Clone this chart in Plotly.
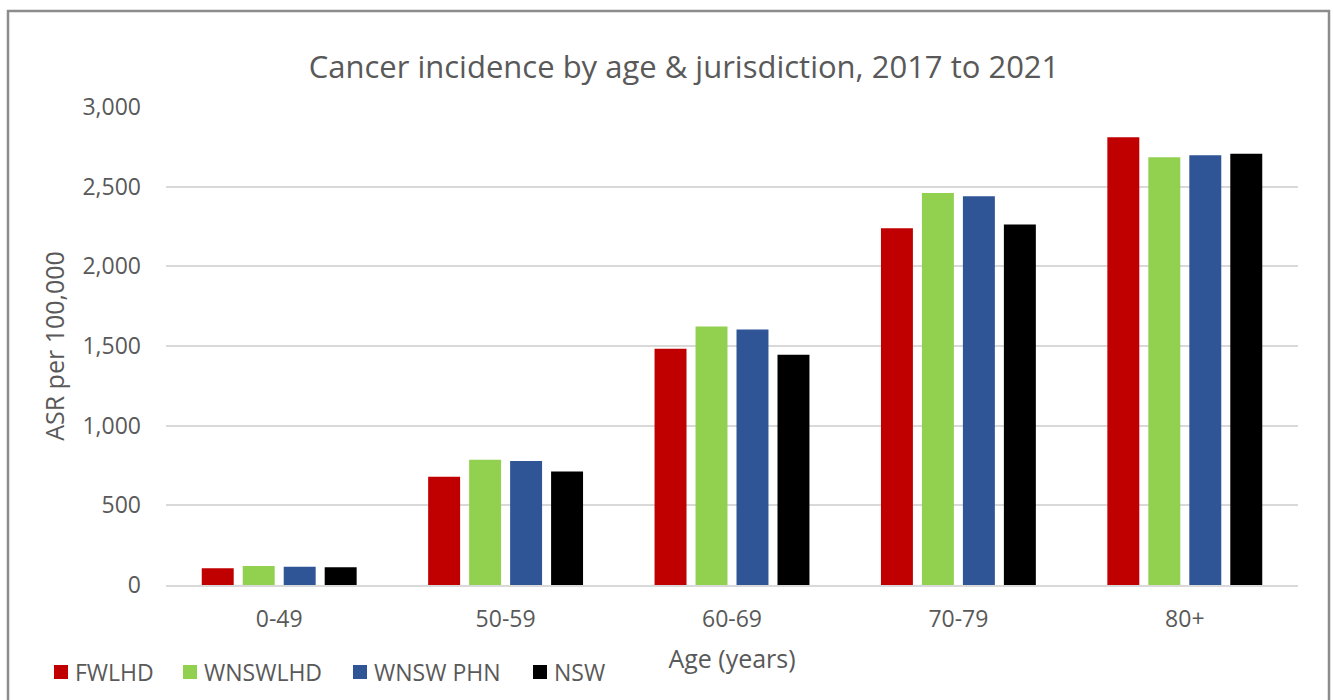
import plotly.graph_objects as go

# Age groups and age-specific rates (ASR per 100,000) for each jurisdiction
age_groups = ["0-49", "50-59", "60-69", "70-79", "80+"]
series_names = ["FWLHD", "WNSWLHD", "WNSW PHN", "NSW"]
fwlhd = [105, 679, 1483, 2239, 2810]
wnswlhd = [119, 786, 1623, 2461, 2684]
wnsw_phn = [115, 778, 1604, 2440, 2697]
nsw = [111, 713, 1445, 2262, 2707]
y_ticks = [0, 500, 1000, 1500, 2000, 2500, 3000]

series_values = [fwlhd, wnswlhd, wnsw_phn, nsw]
series_colors = ["#C00000", "#92D050", "#2F5597", "#000000"]

W, H = 1333, 700
ML, MR, MT, MB = 166, 35, 107, 115
PW = W - ML - MR
PH = H - MT - MB


def px_x(px):
    return (px - ML) / PW


def px_y(py):
    return (H - MB - py) / PH


FONT = "Open Sans"
GREY = "#595959"

fig = go.Figure()
for name, vals, col in zip(series_names, series_values, series_colors):
    fig.add_trace(go.Bar(
        x=age_groups, y=vals, name=name, showlegend=False,
        marker=dict(color=col, line=dict(width=0)),
    ))

fig.update_layout(
    width=W, height=H, autosize=False,
    margin=dict(l=ML, r=MR, t=MT, b=MB, pad=0),
    paper_bgcolor="white", plot_bgcolor="white",
    barmode="group", bargap=0.276, bargroupgap=0.22,
    font=dict(family=FONT, color=GREY, size=23),
    title=dict(
        text="Cancer incidence by age & jurisdiction, 2017 to 2021",
        x=684 / W, xanchor="center", y=1 - 67 / H, yanchor="middle",
        font=dict(family=FONT, size=31, color=GREY),
    ),
    showlegend=False,
)

fig.update_xaxes(
    showgrid=False, zeroline=False,
    showline=True, linecolor="#D9D9D9", linewidth=2,
    ticks="", ticklabelstandoff=12,
    tickfont=dict(family=FONT, size=23, color=GREY),
    title=dict(text="Age (years)", standoff=18,
               font=dict(family=FONT, size=25, color=GREY)),
)

fig.update_yaxes(
    range=[0, 3000], tickvals=y_ticks, tickformat=",",
    showgrid=True, gridcolor="#D9D9D9", gridwidth=2,
    zeroline=False, showline=False,
    ticks="", ticklabelstandoff=24,
    tickfont=dict(family=FONT, size=23, color=GREY),
    title=dict(text="ASR per 100,000", standoff=10,
               font=dict(family=FONT, size=25, color=GREY)),
)

# Legend row along the bottom-left: colour key followed by series name
legend_key_left = [54, 183, 353, 533]
legend_y = 672
key = 14
for name, col, kx in zip(series_names, series_colors, legend_key_left):
    fig.add_shape(
        type="rect", xref="paper", yref="paper",
        x0=px_x(kx), x1=px_x(kx + key),
        y0=px_y(legend_y + key / 2), y1=px_y(legend_y - key / 2),
        line=dict(width=0), fillcolor=col,
    )
    fig.add_annotation(
        text=name, xref="paper", yref="paper",
        x=px_x(kx + key + 5), y=px_y(legend_y),
        xanchor="left", yanchor="middle", showarrow=False,
        font=dict(family=FONT, size=23, color=GREY),
    )

# Chart-area frame
fig.add_shape(
    type="rect", xref="paper", yref="paper",
    x0=px_x(8), x1=px_x(1329), y0=px_y(740), y1=px_y(11),
    line=dict(color="#8C8C8C", width=2.5), fillcolor="rgba(0,0,0,0)",
    layer="below",
)

fig.write_html("out.html")
